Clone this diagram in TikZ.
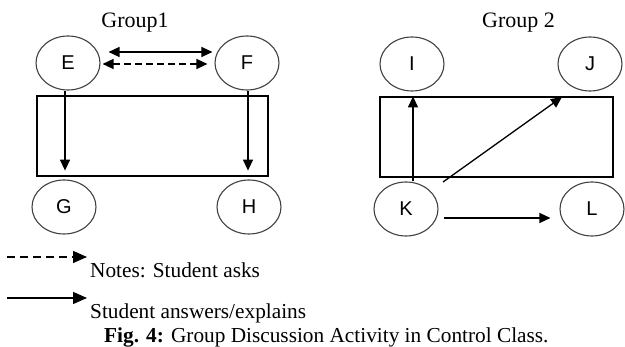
\documentclass[tikz,border=0pt]{standalone}
\usepackage{fontspec}
\setmainfont{Liberation Serif}
\newfontfamily\lettersans{Liberation Sans}
\usetikzlibrary{shapes.geometric,arrows.meta}
\tikzset{
  person/.style={ellipse, draw=black!75, line width=1.1pt, minimum width=64pt, minimum height=54pt, inner sep=0pt, font=\lettersans\fontsize{20}{22}\selectfont, text=black},
  room/.style={rectangle, draw=black, line width=1.2pt, inner sep=0pt},
  arr/.style={line width=1.3pt, -{Triangle[length=11pt,width=10pt]}},
  dblarr/.style={line width=1.3pt, {Triangle[length=11pt,width=10pt]}-{Triangle[length=11pt,width=10pt]}},
  askline/.style={dash pattern=on 7pt off 4pt},
  legarr/.style={line width=1.4pt, -{Triangle[length=14pt,width=12pt]}},
  label/.style={inner sep=0pt, font=\fontsize{22}{26}\selectfont},
  legtext/.style={inner sep=0pt, anchor=base west, font=\fontsize{21.3}{26}\selectfont}
}
\begin{document}
\begin{tikzpicture}[x=1pt,y=-1pt]
\useasboundingbox (0,0) rectangle (625,347);
% titles
\node[label, anchor=base] (g1) at (135,28) {Group1};
\node[label, anchor=base] (g2) at (518.5,28) {Group 2};
% rooms
\node[room, minimum width=231pt, minimum height=80pt] (R1) at (152.5,136) {};
\node[room, minimum width=233pt, minimum height=80pt] (R2) at (496.5,137) {};
% people
\node[person] (E) at (68,63) {E};
\node[person] (F) at (247,63) {F};
\node[person] (G) at (64,207) {G};
\node[person] (H) at (249,207) {H};
\node[person] (I) at (412,64) {I};
\node[person] (J) at (590,64) {J};
\node[person] (K) at (406,209) {K};
\node[person] (L) at (592,209) {L};
% group 1 connectors
\draw[dblarr] ([xshift=8pt,yshift=11pt]E.east) -- ([xshift=-2pt,yshift=11pt]F.west);
\draw[dblarr, askline] ([xshift=2pt,yshift=-1pt]E.east) -- ([xshift=-7pt,yshift=-1pt]F.west);
\coordinate (e1) at ([xshift=-3pt]E.south);
\coordinate (f1) at ([xshift=1pt]F.south);
\draw[arr] (e1) -- (e1 |- R1.south) [shorten >=6pt];
\draw[arr] (f1) -- (f1 |- R1.south) [shorten >=6pt];
% group 2 connectors
\coordinate (k1) at ([xshift=7pt]K.north);
\draw[arr] (k1) -- (k1 |- R2.north);
\coordinate (kd) at (443,182);
\coordinate (jd) at (562,97);
\draw[arr] (kd) -- (jd);
\draw[arr] ([xshift=5pt,yshift=-9pt]K.east) -- ([xshift=-9pt,yshift=-9pt]L.west);
% legend
\coordinate (la) at (7,257);
\coordinate (lb) at (87,257);
\coordinate (lc) at (7,298);
\coordinate (ld) at (87,298);
\draw[legarr, dash pattern=on 8pt off 5pt] (la) -- (lb);
\draw[legarr] (lc) -- (ld);
\node[legtext] (n1) at (90,278) {Notes: Student asks};
\node[legtext] (n2) at (90,319) {Student answers/explains};
\node[legtext] (cap) at (104,343) {\textbf{Fig. 4:} Group Discussion Activity in Control Class.};
\end{tikzpicture}
\end{document}
